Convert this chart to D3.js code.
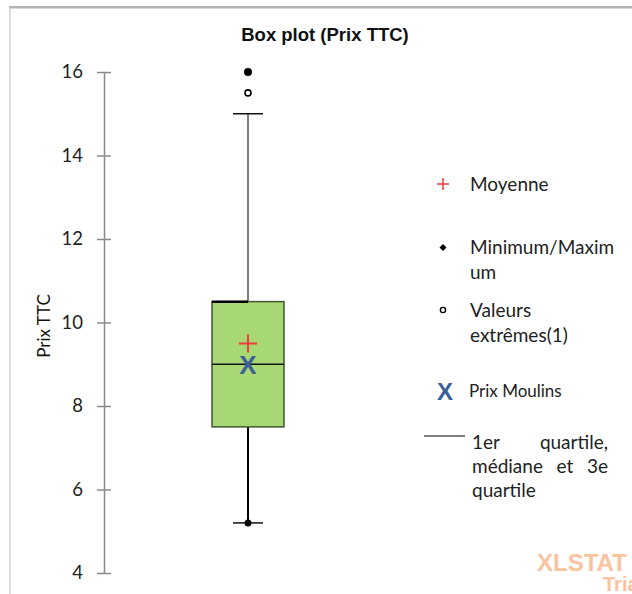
<!DOCTYPE html>
<html>
<head>
<meta charset="utf-8">
<script src="https://cdn.jsdelivr.net/npm/d3@7"></script>
<style>
  body { margin: 0; background: #fff; }
  svg { display: block; }
</style>
</head>
<body>
<div id="chart"></div>
<script>
// Data
const categories = ["Prix TTC"];
const boxStats = [{ min: 5.2, lowWhisker: 5.2, q1: 7.5, median: 9, q3: 10.5, highWhisker: 15, max: 16 }];
const outliers = [15.5];
const means = [9.5];
const prixMoulins = [9];
const yTicks = [4, 6, 8, 10, 12, 14, 16];

const W = 632, H = 594;
const font = "Lato, 'Open Sans', sans-serif";

const svg = d3.select("#chart").append("svg").attr("width", W).attr("height", H);

// Frame
svg.append("line").attr("x1", 9).attr("x2", W).attr("y1", 7).attr("y2", 7)
  .attr("stroke", "#9a9a9a").attr("stroke-width", 1.5);
svg.append("line").attr("x1", 9).attr("x2", W).attr("y1", 8.5).attr("y2", 8.5)
  .attr("stroke", "#d8d8d8").attr("stroke-width", 1);
svg.append("line").attr("x1", 10).attr("x2", 10).attr("y1", 7).attr("y2", H)
  .attr("stroke", "#c8c8c8").attr("stroke-width", 1.2);

// Title
svg.append("text").attr("x", 325).attr("y", 41).attr("text-anchor", "middle")
  .style("font-family", "'Liberation Sans', Arial, sans-serif").style("font-weight", "bold")
  .style("font-size", "18.5px").attr("fill", "#111").text("Box plot (Prix TTC)");

// Scales
const y = d3.scaleLinear().domain([4, 16]).range([573, 72]);
const x = d3.scaleBand().domain(categories).range([104, 392]).padding(0.25);

// Y axis
const axisX = 104;
const yAxis = svg.append("g").attr("transform", `translate(${axisX},0)`)
  .call(d3.axisLeft(y).tickValues(yTicks).tickSize(7).tickPadding(14).tickSizeOuter(0));
yAxis.select(".domain").attr("stroke", "#8a8a8a").attr("stroke-width", 1.5);
yAxis.selectAll(".tick line").attr("stroke", "#8a8a8a").attr("stroke-width", 1.5).attr("x2", 7).attr("x1", -7);
yAxis.selectAll(".tick text").style("font-family", font).style("font-size", "18.5px").attr("fill", "#222");

// Y label
svg.append("text").attr("transform", "translate(50,326) rotate(-90)").attr("text-anchor", "middle")
  .style("font-family", font).style("font-size", "17px").attr("fill", "#111").text("Prix TTC");

// Box
const boxW = 72, capW = 30;
const g = svg.append("g");
categories.forEach((c, i) => {
  const s = boxStats[i];
  const cx = x(c) + x.bandwidth() / 2;
  // upper whisker (grey)
  g.append("line").attr("x1", cx).attr("x2", cx).attr("y1", y(s.q3)).attr("y2", y(s.highWhisker))
    .attr("stroke", "#7f7f7f").attr("stroke-width", 2);
  g.append("line").attr("x1", cx - capW / 2).attr("x2", cx + capW / 2)
    .attr("y1", y(s.highWhisker)).attr("y2", y(s.highWhisker)).attr("stroke", "#111").attr("stroke-width", 1.5);
  // lower whisker (black)
  g.append("line").attr("x1", cx).attr("x2", cx).attr("y1", y(s.q1)).attr("y2", y(s.lowWhisker))
    .attr("stroke", "#000").attr("stroke-width", 2);
  g.append("line").attr("x1", cx - capW / 2).attr("x2", cx + capW / 2)
    .attr("y1", y(s.lowWhisker)).attr("y2", y(s.lowWhisker)).attr("stroke", "#111").attr("stroke-width", 1.5);
  // box
  g.append("rect").attr("x", cx - boxW / 2).attr("y", y(s.q3)).attr("width", boxW)
    .attr("height", y(s.q1) - y(s.q3)).attr("fill", "#a8d873").attr("stroke", "#3f5530").attr("stroke-width", 1.5);
  g.append("line").attr("x1", cx - boxW / 2).attr("x2", cx).attr("y1", y(s.q3)).attr("y2", y(s.q3))
    .attr("stroke", "#000").attr("stroke-width", 2.5);
  g.append("line").attr("x1", cx - boxW / 2).attr("x2", cx + boxW / 2).attr("y1", y(s.median)).attr("y2", y(s.median))
    .attr("stroke", "#111").attr("stroke-width", 1.5);
  // min / max
  g.append("circle").attr("cx", cx).attr("cy", y(s.max)).attr("r", 4).attr("fill", "#000");
  g.append("circle").attr("cx", cx).attr("cy", y(s.min)).attr("r", 3.5).attr("fill", "#000");
  // outliers
  outliers.forEach(v => g.append("circle").attr("cx", cx).attr("cy", y(v)).attr("r", 3)
    .attr("fill", "#fff").attr("stroke", "#000").attr("stroke-width", 1.6));
  // mean
  const my = y(means[i]);
  g.append("path").attr("d", `M${cx - 9},${my}H${cx + 9}M${cx},${my - 9}V${my + 9}`)
    .attr("stroke", "#f03c3c").attr("stroke-width", 2);
  // Prix Moulins
  g.append("text").attr("x", cx).attr("y", y(prixMoulins[i])).attr("dy", "0.36em").attr("text-anchor", "middle")
    .style("font-family", "'Liberation Sans', Arial, sans-serif").style("font-weight", "bold")
    .style("font-size", "26px").attr("fill", "#3b5f98").text("X");
});

// Legend
const lg = svg.append("g").style("font-family", font).attr("fill", "#222");
const tx = 470, fs = "19px";
lg.append("path").attr("d", "M437,184H449M443,178V190").attr("stroke", "#f03c3c").attr("stroke-width", 1.5);
lg.append("text").attr("x", tx).attr("y", 191).style("font-size", fs).text("Moyenne");

lg.append("path").attr("d", "M443,244L446.5,247.5L443,251L439.5,247.5Z").attr("fill", "#000");
lg.append("text").attr("x", tx).attr("y", 254).style("font-size", fs).text("Minimum/Maxim");
lg.append("text").attr("x", tx).attr("y", 279).style("font-size", fs).text("um");

lg.append("circle").attr("cx", 443).attr("cy", 310).attr("r", 2.6).attr("fill", "#fff")
  .attr("stroke", "#000").attr("stroke-width", 1.4);
lg.append("text").attr("x", tx).attr("y", 317).style("font-size", fs).text("Valeurs");
lg.append("text").attr("x", tx).attr("y", 342).style("font-size", fs).text("extrêmes(1)");

lg.append("text").attr("x", 445).attr("y", 391).attr("dy", "0.36em").attr("text-anchor", "middle")
  .style("font-family", "'Liberation Sans', Arial, sans-serif").style("font-weight", "bold")
  .style("font-size", "24px").attr("fill", "#3b5f98").text("X");
lg.append("text").attr("x", 469).attr("y", 397).style("font-size", "17px").text("Prix Moulins");

lg.append("line").attr("x1", 424).attr("x2", 465).attr("y1", 436).attr("y2", 436)
  .attr("stroke", "#000").attr("stroke-width", 1.2);

// justified paragraph
const jLines = [["1er", "quartile,"], ["médiane", "et", "3e"], ["quartile"]];
const jLeft = 472, jRight = 608;
jLines.forEach((words, li) => {
  const yy = 449 + li * 24;
  const nodes = words.map(w => lg.append("text").attr("y", yy).style("font-size", fs).text(w));
  if (li === jLines.length - 1) { nodes.forEach(n => n.attr("x", jLeft)); return; }
  const widths = nodes.map(n => n.node().getComputedTextLength());
  const gap = (jRight - jLeft - d3.sum(widths)) / (words.length - 1);
  let cur = jLeft;
  nodes.forEach((n, k) => { n.attr("x", cur); cur += widths[k] + gap; });
});

// Watermark (cut by the right edge, as in the reference)
const wm = svg.append("g").style("font-family", "'Liberation Sans', Arial, sans-serif")
  .style("font-weight", "bold").attr("fill", "#f9c3a0");
wm.append("text").attr("x", 537).attr("y", 571).style("font-size", "24px").text("XLSTAT");
wm.append("text").attr("x", 603).attr("y", 591).style("font-size", "20px").text("Trial");
</script>
</body>
</html>
